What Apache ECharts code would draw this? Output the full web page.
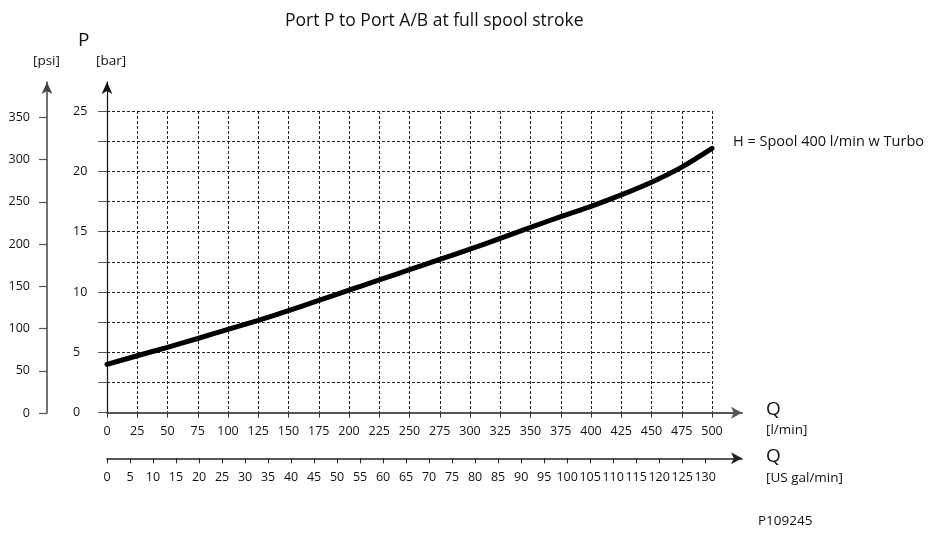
<!DOCTYPE html>
<html>
<head>
<meta charset="utf-8">
<script src="https://cdn.jsdelivr.net/npm/echarts@6/dist/echarts.min.js"></script>
<style>
  html, body { margin: 0; padding: 0; background: #fff; }
  #chart { width: 930px; height: 536px; }
</style>
</head>
<body>
<div id="chart"></div>
<script>
// Flow (l/min) and pressure drop (bar) for spool H, 400 l/min with Turbo
const flowLpm = [0, 25, 50, 75, 100, 125, 150, 175, 200, 225, 250, 275, 300, 325, 350, 375, 400, 425, 450, 475, 500];
const pressureBar = [4.0, 4.72, 5.42, 6.15, 6.9, 7.65, 8.45, 9.3, 10.15, 11.0, 11.85, 12.7, 13.55, 14.45, 15.35, 16.25, 17.1, 18.05, 19.1, 20.35, 21.9];

// Tick labels of the secondary scales
const barLabels = [0, 5, 10, 15, 20, 25];
const psiLabels = [0, 50, 100, 150, 200, 250, 300, 350];
const galLabels = [0, 5, 10, 15, 20, 25, 30, 35, 40, 45, 50, 55, 60, 65, 70, 75, 80, 85, 90, 95, 100, 105, 110, 115, 120, 125, 130];

const seriesName = 'H = Spool 400 l/min w Turbo';
const titleText = 'Port P to Port A/B at full spool stroke';

const FONT = 'Open Sans';
const INK = '#111';

const chart = echarts.init(document.getElementById('chart'), null, { renderer: 'canvas' });

const dash = { type: [3, 2], color: '#222', width: 1 };
const hidden = { show: false };

const option = {
  animation: false,
  backgroundColor: '#fff',
  textStyle: { fontFamily: FONT, color: INK },
  title: {
    text: titleText,
    left: 280,
    top: 7,
    textStyle: { fontFamily: FONT, fontSize: 17.5, fontWeight: 'normal', color: INK }
  },
  grid: [
    // plot area: 0..500 l/min, 0..25 bar
    { left: 107, top: 111, width: 605, height: 301.7, outerBoundsMode: 'none' },
    // main axis lines running past the plot area to the arrows
    { left: 107, top: 82, width: 635, height: 330.7, outerBoundsMode: 'none' },
    // psi scale
    { left: 47, top: 82, width: 1, height: 331, outerBoundsMode: 'none' },
    // US gal/min scale
    { left: 107, top: 400, width: 635, height: 58.3, outerBoundsMode: 'none' }
  ],
  xAxis: [
    {
      gridIndex: 0, type: 'value', min: 0, max: 500, interval: 25,
      axisLine: hidden,
      axisTick: { show: true, length: 5, lineStyle: { color: '#333', width: 1 } },
      axisLabel: { margin: 12, fontSize: 12.5, color: INK, fontFamily: FONT },
      splitLine: { show: true, lineStyle: dash }
    },
    {
      gridIndex: 1, type: 'value', min: 0, max: 1,
      axisLine: { show: true, symbol: ['none', 'arrow'], symbolSize: [9, 11], lineStyle: { color: '#555', width: 2 } },
      axisTick: hidden, axisLabel: hidden, splitLine: hidden
    },
    { gridIndex: 2, type: 'value', show: false },
    {
      gridIndex: 3, type: 'value', min: 0, max: 138, interval: 5,
      axisLine: { show: true, symbol: ['none', 'arrow'], symbolSize: [9, 11], lineStyle: { color: '#222', width: 1.5 } },
      axisTick: { show: true, length: 5, customValues: galLabels, lineStyle: { color: '#222', width: 1 } },
      axisLabel: { margin: 13, fontSize: 12.5, color: INK, fontFamily: FONT, customValues: galLabels },
      splitLine: hidden
    }
  ],
  yAxis: [
    {
      gridIndex: 0, type: 'value', min: 0, max: 25, interval: 2.5,
      axisLine: hidden,
      axisTick: { show: true, length: 9, lineStyle: { color: '#555', width: 1 } },
      axisLabel: { margin: 34, align: 'left', fontSize: 12.5, color: INK, fontFamily: FONT, customValues: barLabels },
      splitLine: { show: true, lineStyle: dash }
    },
    {
      gridIndex: 1, type: 'value', min: 0, max: 1,
      axisLine: { show: true, symbol: ['none', 'arrow'], symbolSize: [8, 12], lineStyle: { color: '#111', width: 1.2 } },
      axisTick: hidden, axisLabel: hidden, splitLine: hidden
    },
    {
      gridIndex: 2, type: 'value', min: 0, max: 392, interval: 50, position: 'left',
      axisLine: { show: true, symbol: ['none', 'arrow'], symbolSize: [8, 12], lineStyle: { color: '#444', width: 1.5 } },
      axisTick: { show: true, length: 8, customValues: psiLabels, lineStyle: { color: '#555', width: 1.2 } },
      axisLabel: { margin: 17, fontSize: 12.5, color: INK, fontFamily: FONT, customValues: psiLabels },
      splitLine: hidden
    },
    { gridIndex: 3, type: 'value', show: false }
  ],
  series: [
    {
      name: seriesName,
      type: 'line',
      xAxisIndex: 0,
      yAxisIndex: 0,
      data: flowLpm.map((q, i) => [q, pressureBar[i]]),
      smooth: 0.3,
      symbol: 'none',
      lineStyle: { color: '#000', width: 5, cap: 'round' },
      endLabel: {
        show: true,
        formatter: seriesName,
        offset: [13, -7],
        fontSize: 14.5,
        color: INK,
        fontFamily: FONT
      },
      z: 5
    }
  ],
  graphic: [
    { type: 'text', left: 78, top: 31, style: { text: 'P', font: '19px "Open Sans"', fill: INK } },
    { type: 'text', left: 33, top: 54, style: { text: '[psi]', font: '13.5px "Open Sans"', fill: INK } },
    { type: 'text', left: 96, top: 54, style: { text: '[bar]', font: '13.5px "Open Sans"', fill: INK } },
    { type: 'text', left: 766, top: 400, style: { text: 'Q', font: '19px "Open Sans"', fill: INK } },
    { type: 'text', left: 766, top: 423, style: { text: '[l/min]', font: '13.5px "Open Sans"', fill: INK } },
    { type: 'text', left: 766, top: 447, style: { text: 'Q', font: '19px "Open Sans"', fill: INK } },
    { type: 'text', left: 766, top: 471, style: { text: '[US gal/min]', font: '13.5px "Open Sans"', fill: INK } },
    { type: 'text', left: 758, top: 514, style: { text: 'P109245', font: '13.5px "Open Sans"', fill: INK } }
  ]
};

chart.setOption(option);
</script>
</body>
</html>
